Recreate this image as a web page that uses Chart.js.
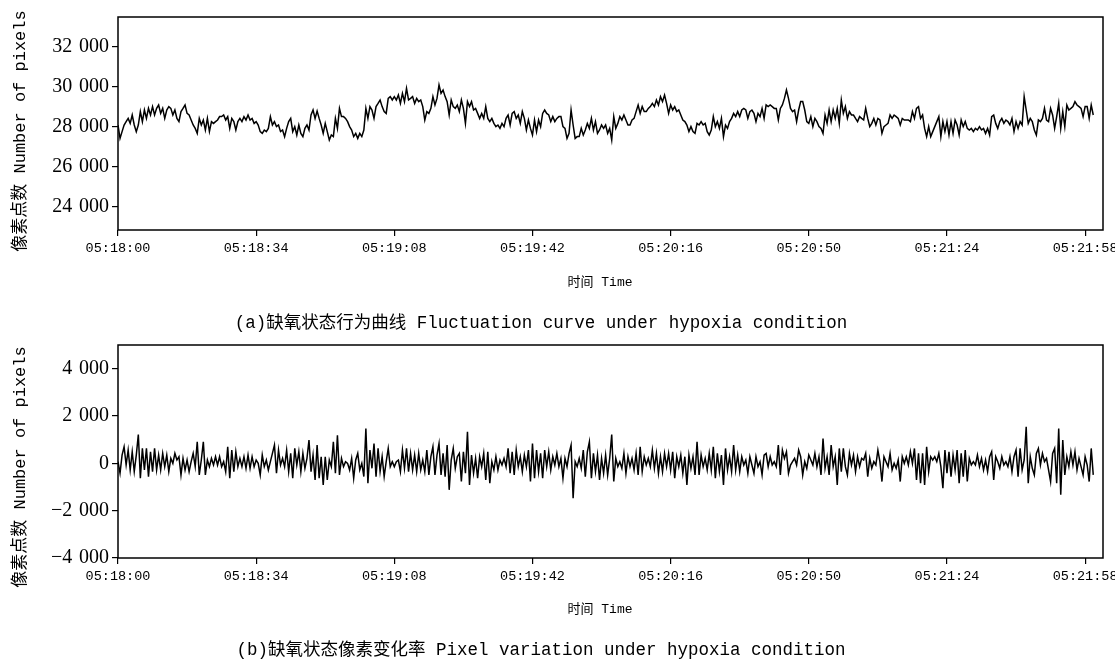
<!DOCTYPE html>
<html>
<head>
<meta charset="utf-8">
<script src="https://cdn.jsdelivr.net/npm/chart.js@4.4.0/dist/chart.umd.min.js"></script>
<style>
  body { margin: 0; background: #fff; }
  #wrap { position: relative; width: 1115px; height: 661px; overflow: hidden; }
  canvas { position: absolute; left: 0; }
  .txt { position: absolute; text-align: center; color: #000; white-space: pre;
         font-family: "Liberation Mono", "Noto Sans CJK SC", monospace; }
  .cap { left: 0; width: 1082px; font-size: 17.5px; line-height: 22px; }
  .xtitle { left: 500px; width: 200px; font-size: 13px; line-height: 18px; }
  .ytitle { width: 300px; height: 22px; line-height: 22px; font-size: 17px; transform: rotate(-90deg); }
</style>
</head>
<body>
<div id="wrap">
  <canvas id="chartA" width="1115" height="335" style="top:0"></canvas>
  <div class="txt ytitle" style="left:-129px; top:120px">像素点数 Number of pixels</div>
  <div class="txt xtitle" style="top:274px">时间 Time</div>
  <div class="txt cap" style="top:312px">(a)缺氧状态行为曲线 Fluctuation curve under hypoxia condition</div>
  <canvas id="chartB" width="1115" height="326" style="top:335px"></canvas>
  <div class="txt ytitle" style="left:-129px; top:456px">像素点数 Number of pixels</div>
  <div class="txt xtitle" style="top:601px">时间 Time</div>
  <div class="txt cap" style="top:639px">(b)缺氧状态像素变化率 Pixel variation under hypoxia condition</div>
</div>
<script>
// sampling: one value every 0.5 s starting at 05:18:00
const startSec = 5 * 3600 + 18 * 60;
const stepSec = 0.5;
const axisEndSec = 242.4;
const timeTicks = [0, 34, 68, 102, 136, 170, 204, 238];
const countTicks = [24000, 26000, 28000, 30000, 32000];
const changeTicks = [-4000, -2000, 0, 2000, 4000];

// (a) number of pixels
const pixelCount = [
  28100, 27430, 27770, 28100, 28270, 28430, 28180, 28600, 28100, 27770,
  28100, 28770, 28270, 28850, 28430, 28930, 28600, 29020, 28600, 28930,
  29100, 28680, 28930, 28430, 28850, 29020, 28930, 28600, 28850, 28430,
  28270, 28770, 28930, 29100, 28680, 28600, 28350, 28100, 27930, 27680,
  28430, 28100, 28350, 27850, 28430, 27770, 28270, 28180, 28270, 28350,
  28520, 28520, 28600, 28350, 28520, 27930, 28430, 28270, 27850, 28270,
  28430, 28270, 28520, 28350, 28600, 28350, 28430, 28180, 28270, 28100,
  27770, 27680, 27850, 27770, 27930, 28520, 28100, 28270, 28020, 28100,
  27770, 27850, 27520, 27930, 28270, 28430, 27770, 28020, 27600, 28100,
  27680, 27520, 27930, 28100, 27850,
  28600, 28850, 28430, 28800, 28430, 28100, 27680, 28180, 27770, 27350,
  27600, 27520, 28430, 27930, 28930, 28520, 28520, 28430, 28270, 28020,
  27850, 27520, 27680, 27430, 27680, 27520, 27850, 28930, 28430, 29020,
  28850, 28430, 29020, 29180, 29350, 29020, 28770, 28680, 29430, 29520,
  29350, 29520, 29350, 29600, 29180, 29680, 29270, 29930, 29350, 29430,
  29520, 29180, 29430, 29270, 29350, 29020, 28350, 28770, 28680, 28930,
  29520, 29100, 29430, 30100, 29680, 29850, 29520, 29270, 28600, 29350,
  29020, 28930, 29100, 28770, 29350, 28930, 28180, 29270, 29020, 29270,
  28850, 28930, 28680, 28430, 28680, 28430, 29020, 28430, 28270, 28430,
  28180, 28020, 28100, 27930, 28180, 28020,
  28430, 28600, 28100, 28680, 28770, 28430, 28600, 28180, 28770, 28430,
  27850, 28350, 27930, 27600, 28350, 27770, 28350, 28020, 28680, 28850,
  28680, 28600, 28270, 28520, 28270, 28430, 28520, 28520, 28020, 27930,
  27430, 27680, 28850, 28100, 27430, 27520, 27520, 27930, 27600, 27850,
  28180, 27930, 28430, 27850, 28270, 27680, 27850, 28100, 27930, 28100,
  27680, 27930, 27350, 28520, 27930, 28180, 28520, 28350, 28600, 28350,
  28100, 28100, 28350, 28430, 28770, 29100, 28680, 29020, 28770, 28770,
  28930, 29020, 29180, 29020, 29350, 29100, 29520, 29270, 29600, 29180,
  28680, 29100, 28850, 29020, 28770, 28850, 28600, 28350, 28270, 28100,
  27770, 28020, 27770, 27680, 28180, 28100,
  28270, 28100, 28180, 27770, 27600, 27850, 28520, 28020, 28270, 27930,
  28430, 27520, 28100, 27930, 28270, 28430, 28680, 28520, 28770, 28520,
  28850, 28930, 28850, 28430, 28770, 28850, 28680, 28270, 28680, 28520,
  28930, 28430, 29100, 29020, 29100, 29020, 28930, 28930, 28350, 28930,
  29100, 29430, 29850, 29430, 28930, 28770, 28850, 28270, 28850, 29270,
  29270, 28850, 28270, 28180, 28520, 28020, 28430, 28270, 28020, 27930,
  27680, 28600, 28180, 28850, 28270, 28850, 28430, 28930, 28180, 29350,
  28680, 29020, 28430, 28770, 28600, 28600, 28430, 28270, 28520, 28430,
  28350, 28930, 28430, 28020, 28180, 28430, 28100, 28430, 28350, 27680,
  28020, 28100, 28180, 28600, 28430, 28600,
  28520, 28430, 28100, 28430, 28350, 28350, 28350, 28270, 28770, 28430,
  28930, 29020, 28430, 28600, 27930, 27520, 28020, 27520, 27770, 28020,
  28270, 28520, 27520, 28270, 27770, 28270, 27600, 28270, 27680, 28350,
  28100, 27600, 28350, 28020, 28270, 27930, 27850, 27930, 27770, 27930,
  27850, 28020, 27850, 27930, 27680, 27930, 27600, 28520, 28600, 28180,
  27930, 28270, 28430, 28180, 28350, 28270, 28100, 28430, 27770, 28270,
  27930, 28270, 28100, 29520, 28850, 28180, 28430, 28270, 27850, 27600,
  28350, 28270, 28430, 28930, 28350, 28270, 28930, 28600, 27930, 28520,
  29180, 27930, 28770, 28020, 29100, 28850, 28930, 29020, 29270, 29100,
  29020, 28930, 28520, 29020, 29020, 28430, 29100, 28600
];

// (b) pixel variation
const pixelChange = [
  70, -420, 350, 700, -70, 560, -280, 490, -350, 350,
  1220, -630, 630, -280, 630, -560, 490, -350, 630, -280,
  350, -280, 420, -140, 350, -350, 210, 0, 420, 140,
  280, -490, 210, -280, 140, -350, 70, 420, -140, 910,
  -490, 140, 910, -490, 140, -140, 210, -70, 280, -70,
  280, -140, 70, -350, 700, -630, 560, -350, 490, -140,
  210, -140, 280, -210, 350, -210, 280, -140, 140, 0,
  -490, 350, -140, 140, -280, 70, 420, 770, -420, 560,
  -70, 210, -140, 560, -350, 420, -630, 630, -70, 490,
  -350, 420, -210, 210, 980,
  -350, 350, -700, 770, -630, 280, -910, 280, -700, 140,
  -140, 910, -420, 1190, -490, 210, -140, 70, 0, -280,
  210, -630, 140, 420, -280, 0, -560, 1470, -840, 560,
  -210, 840, -560, 630, -350, 280, -560, 70, 630, -140,
  70, -140, 70, 140, -350, 560, -210, 630, -350, 420,
  -280, 350, -350, 420, -280, 140, -350, 560, -490, 280,
  700, -490, 350, 840, -490, 420, -560, 770, -1120, 140,
  630, -210, 280, 420, -770, 490, -420, 1330, -910, 350,
  -420, 210, -630, 280, -140, 420, -700, 490, -840, 70,
  -280, 280, -280, 140, -70, 210,
  -140, 630, -420, 490, -490, 560, -140, 280, -350, 350,
  -140, 560, -770, 840, -630, 560, -350, 420, -630, 560,
  -140, 490, -280, 280, -70, 420, -140, 210, -630, 210,
  -140, 420, 770, -1470, 70, -140, 210, -210, 560, -560,
  490, 910, -630, 420, -350, 350, -700, 210, -420, 350,
  -490, 210, 1220, -770, 210, -140, 70, -210, 420, -420,
  280, -140, 210, -280, 420, -490, 700, -350, 280, -70,
  210, -140, 560, -210, 420, -420, 280, -350, 420, -140,
  420, -280, 490, -630, 280, -140, 350, -420, 280, -910,
  350, -210, 280, -490, 910, -490,
  350, -140, 210, -280, 420, -280, 700, -630, 420, -350,
  350, -910, 630, -280, 280, -350, 770, -280, 350, -350,
  280, -70, 140, -420, 280, -70, -420, 280, -140, 70,
  -490, 350, 420, -140, 280, -70, 70, -140, 770, -490,
  560, 210, 490, -420, -70, 70, 210, -70, 560, 280,
  -490, 70, -210, 350, 140, -70, 420, -140, 280, -490,
  1050, -210, 280, -490, 770, -140, 280, -910, 630, -350,
  630, -140, -490, 420, -70, 350, -350, 280, -140, 210,
  140, 420, -560, 210, -210, 70, -70, 560, 70, -770,
  280, 70, -140, 420, -280, 0,
  -210, 140, -770, 280, 0, 280, -70, 490, 0, 630,
  -700, 420, -840, 420, -910, 700, -350, 280, 140, 280,
  70, 420, -140, -1050, 560, -420, 490, -560, 350, -280,
  560, -840, 420, -560, 560, -770, 210, -70, 70, -70,
  350, -140, 210, -280, 140, -350, 280, 490, -700, 280,
  70, -210, 280, -70, 70, -140, 280, -350, 280, 560,
  -560, 630, -280, 140, 1540, -840, 280, -210, -490, 420,
  630, -70, 420, 70, 210, -280, -770, 420, 630, -840,
  1470, -1330, 980, -490, 280, -140, 490, -70, 490, -280,
  210, -140, -490, 280, -70, -770, 630, -490
];

const monoFont = '"Liberation Mono", "Noto Sans CJK SC", monospace';
const serifFont = '"Liberation Serif", serif';

function fmtTime(t) {
  const s = startSec + Math.round(t);
  const p = n => String(n).padStart(2, '0');
  return p(Math.floor(s / 3600)) + ':' + p(Math.floor(s / 60) % 60) + ':' + p(s % 60);
}

function fmtNum(v) {
  const a = Math.abs(v);
  const s = a >= 1000 ? Math.floor(a / 1000) + '\u2004' + String(a % 1000).padStart(3, '0') : String(a);
  return (v < 0 ? '\u2212' : '') + s;
}

// full box round the plot area
const framePlugin = {
  id: 'frame',
  afterDraw(chart) {
    const {ctx, chartArea: a} = chart;
    ctx.save();
    ctx.strokeStyle = '#000';
    ctx.lineWidth = 1.5;
    ctx.strokeRect(a.left, a.top, a.right - a.left, a.bottom - a.top);
    ctx.restore();
  }
};

function makeChart(id, values, yMin, yMax, yTicks, padTop, axisHeight) {
  return new Chart(document.getElementById(id), {
    type: 'line',
    data: {
      datasets: [{
        data: values.map((v, i) => ({x: i * stepSec, y: v})),
        borderColor: '#000',
        borderWidth: 1.5,
        pointRadius: 0,
        tension: 0,
        fill: false
      }]
    },
    options: {
      responsive: false,
      animation: false,
      layout: { padding: { top: padTop, right: 12, left: 0, bottom: 0 } },
      plugins: { legend: { display: false }, tooltip: { enabled: false } },
      scales: {
        x: {
          type: 'linear',
          min: 0,
          max: axisEndSec,
          afterBuildTicks: s => { s.ticks = timeTicks.map(v => ({value: v})); },
          afterFit: s => { s.height = axisHeight; s.paddingLeft = 0; s.paddingRight = 0; },
          ticks: {
            autoSkip: false, maxRotation: 0, color: '#000', padding: 4,
            font: { family: monoFont, size: 13.5 }, callback: v => fmtTime(v)
          },
          grid: { drawOnChartArea: false, tickLength: 6, color: '#000', lineWidth: 1.2 },
          border: { display: false }
        },
        y: {
          min: yMin,
          max: yMax,
          afterBuildTicks: s => { s.ticks = yTicks.map(v => ({value: v})); },
          afterFit: s => { s.width = 118; s.paddingTop = 0; s.paddingBottom = 0; },
          ticks: {
            color: '#000', padding: 3,
            font: { family: serifFont, size: 20 }, callback: v => fmtNum(v)
          },
          grid: { drawOnChartArea: false, tickLength: 6, color: '#000', lineWidth: 1.2 },
          border: { display: false }
        }
      }
    },
    plugins: [framePlugin]
  });
}

makeChart('chartA', pixelCount, 22850, 33500, countTicks, 17, 105);
makeChart('chartB', pixelChange, -4000, 5000, changeTicks, 10, 103);
</script>
</body>
</html>
